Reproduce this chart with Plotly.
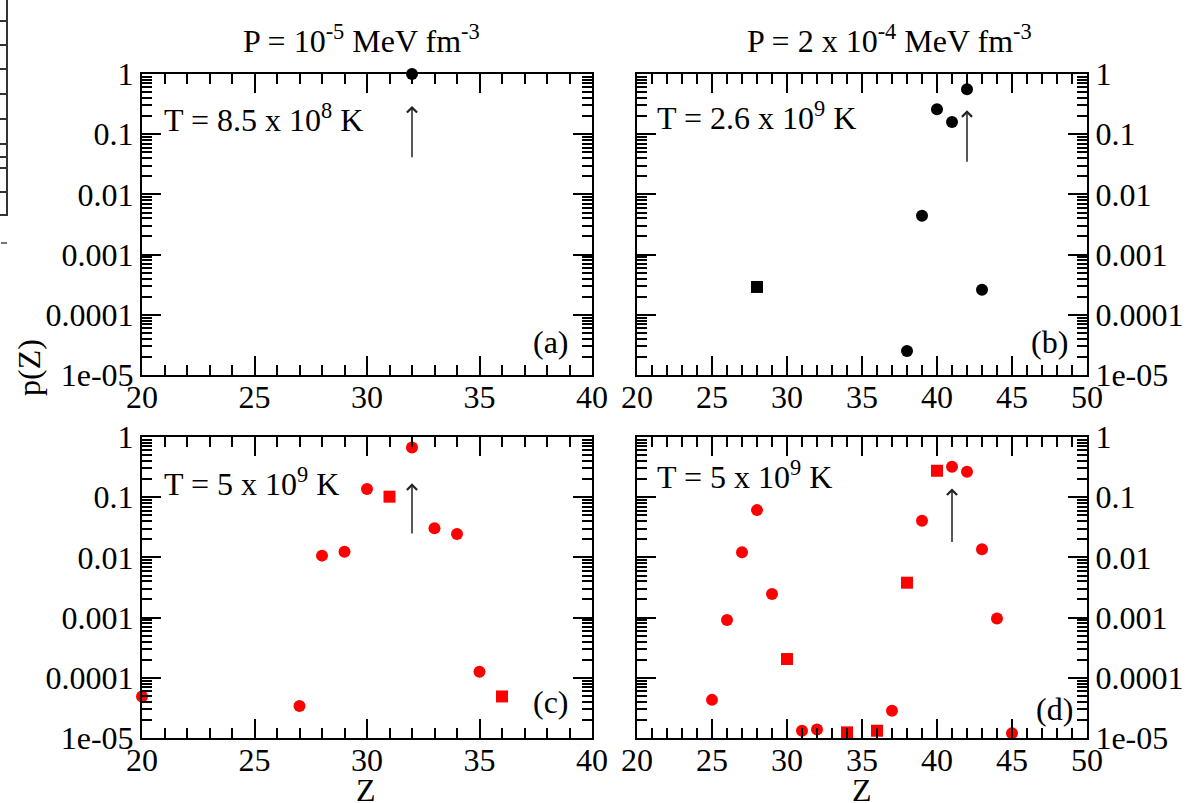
import math
import plotly.graph_objects as go

# ---------------- data ----------------
z_a = [32]
p_a = [1.0]
sym_a = ["circle"]

z_b = [28, 38, 39, 40, 41, 42, 43]
p_b = [2.9e-4, 2.5e-5, 4.4e-3, 0.26, 0.16, 0.56, 2.6e-4]
sym_b = ["square", "circle", "circle", "circle", "circle", "circle", "circle"]

z_c = [20, 27, 28, 29, 30, 31, 32, 33, 34, 35, 36]
p_c = [4.9e-5, 3.4e-5, 0.0107, 0.0124, 0.137, 0.102, 0.67, 0.0304, 0.0245, 1.26e-4, 4.9e-5]
sym_c = ["circle", "circle", "circle", "circle", "circle", "square", "circle",
         "circle", "circle", "circle", "square"]

z_d = [25, 26, 27, 28, 29, 30, 31, 32, 34, 36, 37, 38, 39, 40, 41, 42, 43, 44, 45]
p_d = [4.3e-5, 9.1e-4, 0.0122, 0.061, 2.47e-3, 2.05e-4, 1.32e-5, 1.39e-5, 1.24e-5,
       1.32e-5, 2.84e-5, 3.8e-3, 0.0407, 0.275, 0.321, 0.265, 0.0136, 9.7e-4, 1.2e-5]
sym_d = ["circle", "circle", "circle", "circle", "circle", "square", "circle", "circle",
         "square", "square", "circle", "square", "circle", "square", "circle", "circle",
         "circle", "circle", "circle"]

arrow_z = [32, 42, 32, 41]
arrow_tail = [0.039, 0.033, 0.0235, 0.017]
arrow_head = [0.295, 0.25, 0.17, 0.14]

y_tickvals = [1, 0.1, 0.01, 0.001, 0.0001, 0.00001]
y_ticktext = ["1", "0.1", "0.01", "0.001", "0.0001", "1e-05"]

titles = ["P = 10<sup>-5</sup> MeV fm<sup>-3</sup>",
          "P = 2 x 10<sup>-4</sup> MeV fm<sup>-3</sup>"]
temps = ["T = 8.5 x 10<sup>8</sup> K", "T = 2.6 x 10<sup>9</sup> K",
         "T = 5 x 10<sup>9</sup> K", "T = 5 x 10<sup>9</sup> K"]
panel_tags = ["(a)", "(b)", "(c)", "(d)"]

# ---------------- layout helpers ----------------
W, H = 1199, 803
FONT = "Liberation Serif"
FS = 32


def px(x):
    return x / W


def py(y):
    return 1 - y / H


# panel boxes in pixels: (left, right, top, bottom)
boxes = [(142, 592, 74, 375), (637, 1087, 74, 375),
         (142, 592, 437, 738), (637, 1087, 437, 738)]
xranges = [[20, 40], [20, 50], [20, 40], [20, 50]]

fig = go.Figure()

series = [(z_a, p_a, sym_a, "black"), (z_b, p_b, sym_b, "black"),
          (z_c, p_c, sym_c, "red"), (z_d, p_d, sym_d, "red")]

for i, (zs, ps, syms, col) in enumerate(series):
    xa = "x" if i == 0 else f"x{i+1}"
    ya = "y" if i == 0 else f"y{i+1}"
    fig.add_trace(go.Scatter(
        x=zs, y=ps, mode="markers", xaxis=xa, yaxis=ya,
        marker=dict(color=col, size=12, symbol=syms, line=dict(width=0)),
        cliponaxis=False, showlegend=False, hoverinfo="skip"))

layout = dict(template="none", width=W, height=H, autosize=False,
              margin=dict(l=0, r=0, t=0, b=0, pad=0, autoexpand=False),
              paper_bgcolor="white", plot_bgcolor="white", showlegend=False,
              font=dict(family=FONT, size=FS, color="black"))

for i, (l, r, t, b) in enumerate(boxes):
    xname = "xaxis" if i == 0 else f"xaxis{i+1}"
    yname = "yaxis" if i == 0 else f"yaxis{i+1}"
    xid = "x" if i == 0 else f"x{i+1}"
    yid = "y" if i == 0 else f"y{i+1}"
    layout[xname] = dict(
        domain=[px(l), px(r)], anchor=yid, range=xranges[i], dtick=5, tick0=0,
        automargin=False, ticklabelstandoff=-7,
        showgrid=False, zeroline=False, showline=True, linecolor="black", linewidth=2,
        mirror="ticks", ticks="inside", ticklen=19, tickwidth=2, tickcolor="black",
        tickfont=dict(family=FONT, size=FS, color="black"),
        minor=dict(ticks="inside", ticklen=10, tickwidth=2, tickcolor="black", dtick=1,
                   showgrid=False))
    layout[yname] = dict(
        domain=[py(b), py(t)], anchor=xid, type="log", range=[-5, 0],
        automargin=False,
        tickmode="array", tickvals=y_tickvals, ticktext=y_ticktext,
        side="right" if i % 2 == 1 else "left",
        showgrid=False, zeroline=False, showline=True, linecolor="black", linewidth=2,
        mirror="ticks", ticks="inside", ticklen=19, tickwidth=2, tickcolor="black",
        tickfont=dict(family=FONT, size=FS, color="black"),
        minor=dict(ticks="inside", ticklen=10, tickwidth=2, tickcolor="black", dtick="D1",
                   showgrid=False))

annotations = []
# titles
title_pos = [(241, 39), (745, 39)]
for txt, (x, y) in zip(titles, title_pos):
    annotations.append(dict(text=txt, x=px(x), y=py(y), xref="paper", yref="paper",
                            xanchor="left", yanchor="middle", showarrow=False,
                            font=dict(family=FONT, size=FS, color="black")))
# temperature labels
temp_pos = [(162, 118), (655, 116), (162, 482), (655, 475)]
for txt, (x, y) in zip(temps, temp_pos):
    annotations.append(dict(text=txt, x=px(x), y=py(y), xref="paper", yref="paper",
                            xanchor="left", yanchor="middle", showarrow=False,
                            font=dict(family=FONT, size=FS, color="black")))
# panel tags
tag_pos = [(551, 342), (1049, 342), (551, 702), (1054, 709)]
for txt, (x, y) in zip(panel_tags, tag_pos):
    annotations.append(dict(text=txt, x=px(x), y=py(y), xref="paper", yref="paper",
                            xanchor="center", yanchor="middle", showarrow=False,
                            font=dict(family=FONT, size=FS, color="black")))
# axis titles
annotations.append(dict(text="p(Z)", x=px(29), y=py(368), xref="paper", yref="paper",
                        textangle=-90, showarrow=False, xanchor="center", yanchor="middle",
                        font=dict(family=FONT, size=FS, color="black")))
for xc in (366, 862):
    annotations.append(dict(text="Z", x=px(xc), y=py(790), xref="paper", yref="paper",
                            showarrow=False, xanchor="center", yanchor="middle",
                            font=dict(family=FONT, size=FS, color="black")))
# arrows
for i, (z, tail, head) in enumerate(zip(arrow_z, arrow_tail, arrow_head)):
    xid = "x" if i == 0 else f"x{i+1}"
    yid = "y" if i == 0 else f"y{i+1}"
    annotations.append(dict(x=z, y=math.log10(head), ax=z, ay=math.log10(tail),
                            xref=xid, yref=yid, axref=xid, ayref=yid, text="",
                            showarrow=True, arrowhead=4, arrowsize=1.3, arrowwidth=1.5,
                            arrowcolor="#222"))
layout["annotations"] = annotations

# cropped-edge artefact from the neighbouring figure (top-left border)
shapes = [dict(type="line", xref="paper", yref="paper", x0=px(7), x1=px(7), y0=py(0), y1=py(216),
               line=dict(color="#333", width=2))]
for yy in (21, 45, 69, 94, 119, 144, 157, 168, 192, 215):
    shapes.append(dict(type="line", xref="paper", yref="paper", x0=px(0), x1=px(7),
                       y0=py(yy), y1=py(yy), line=dict(color="#333", width=2)))
shapes.append(dict(type="line", xref="paper", yref="paper", x0=px(1), x1=px(7),
                   y0=py(243), y1=py(243), line=dict(color="#777", width=2)))
layout["shapes"] = shapes

fig.update_layout(**layout)
fig.write_html("out.html", config={"responsive": False},
               post_script="document.body.style.margin='0';")
